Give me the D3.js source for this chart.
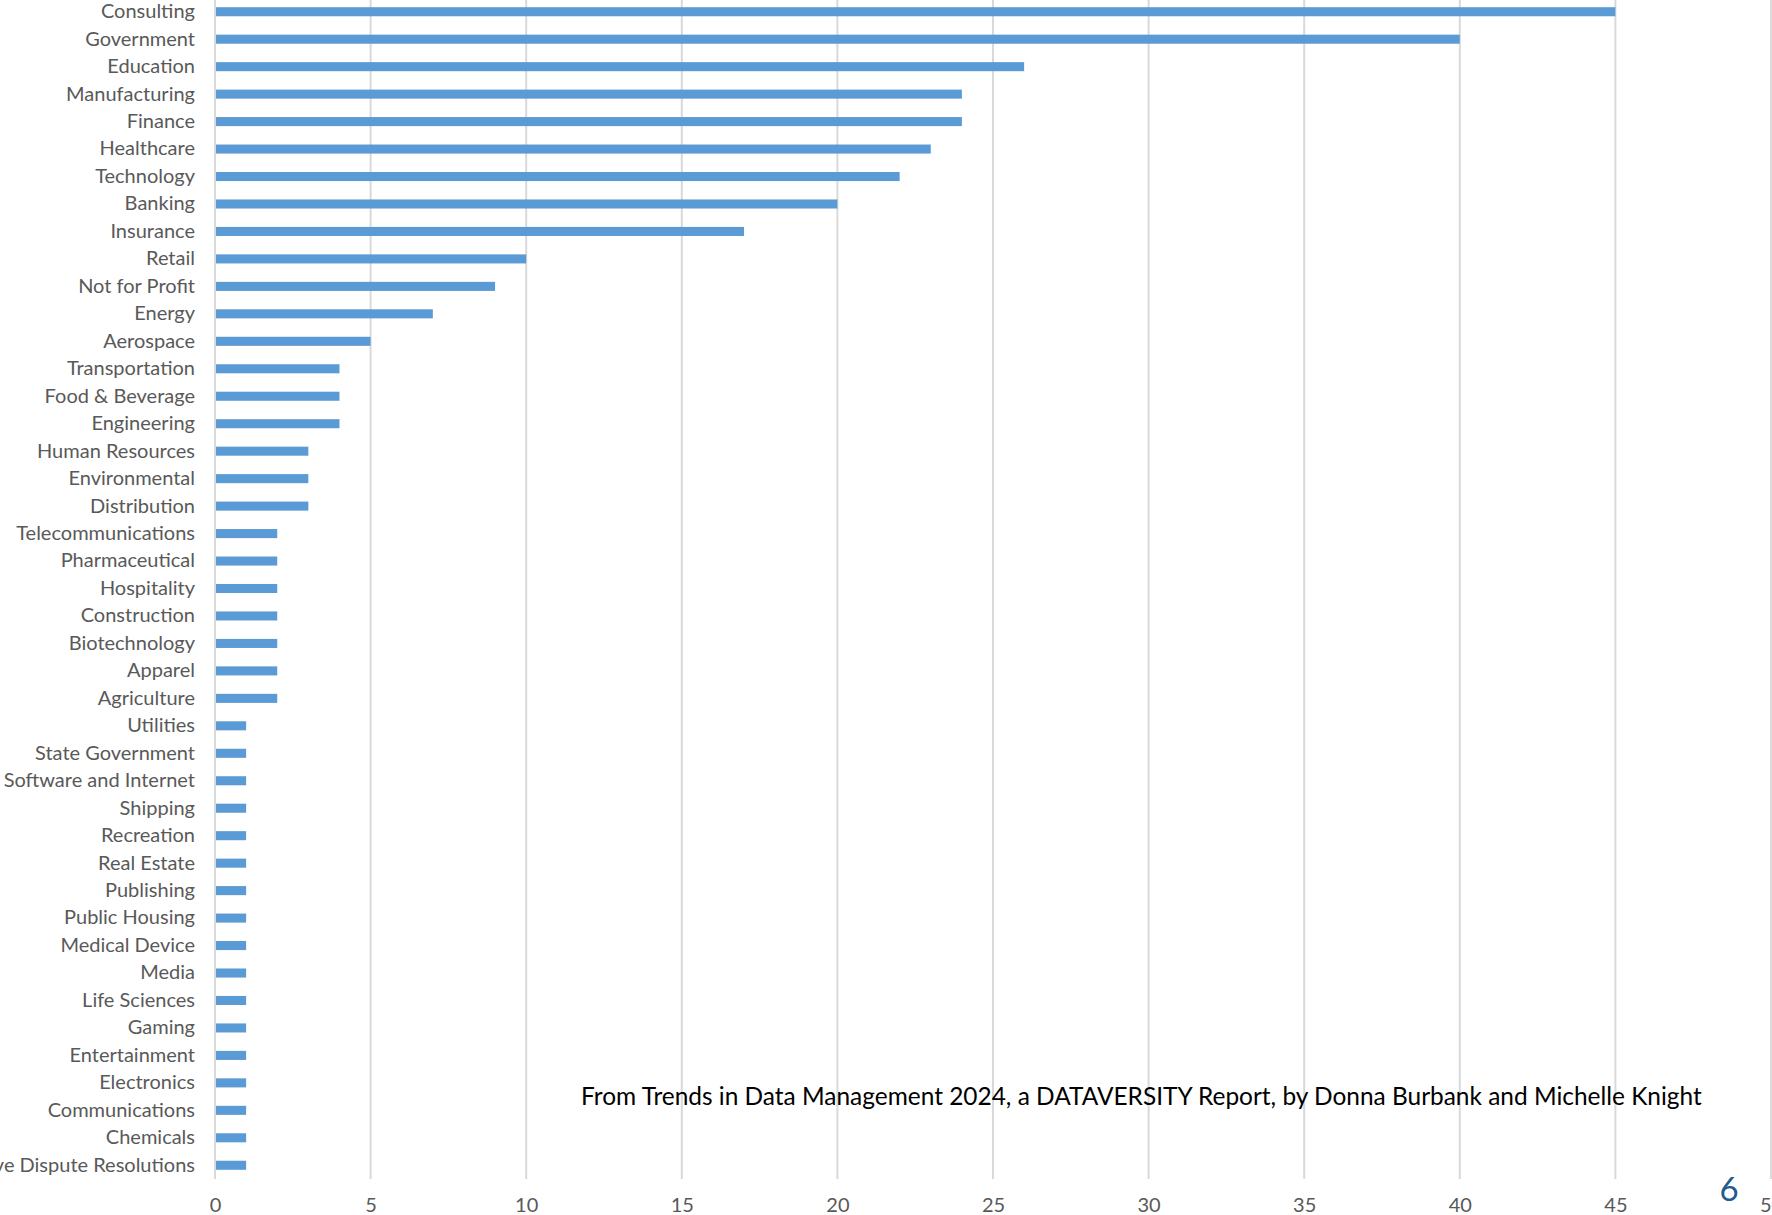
<!DOCTYPE html>
<html>
<head>
<meta charset="utf-8">
<script src="https://cdn.jsdelivr.net/npm/d3@7"></script>
<style>
  body { margin: 0; background: #fff; }
  svg { display: block; }
</style>
</head>
<body>
<div id="chart"></div>
<script>
// Industries of respondents (count)
const categories = [
    "Consulting", "Government", "Education", "Manufacturing", "Finance",
    "Healthcare", "Technology", "Banking", "Insurance", "Retail",
    "Not for Profit", "Energy", "Aerospace", "Transportation", "Food & Beverage",
    "Engineering", "Human Resources", "Environmental", "Distribution", "Telecommunications",
    "Pharmaceutical", "Hospitality", "Construction", "Biotechnology", "Apparel",
    "Agriculture", "Utilities", "State Government", "Software and Internet", "Shipping",
    "Recreation", "Real Estate", "Publishing", "Public Housing", "Medical Device",
    "Media", "Life Sciences", "Gaming", "Entertainment", "Electronics",
    "Communications", "Chemicals", "Alternative Dispute Resolutions"
];
const counts = [
    45, 40, 26, 24, 24,
    23, 22, 20, 17, 10,
    9, 7, 5, 4, 4,
    4, 3, 3, 3, 2,
    2, 2, 2, 2, 2,
    2, 1, 1, 1, 1,
    1, 1, 1, 1, 1,
    1, 1, 1, 1, 1,
    1, 1, 1
];
const xTicks = [0, 5, 10, 15, 20, 25, 30, 35, 40, 45, 50];

const sourceText = "From Trends in Data Management 2024, a DATAVERSITY Report, by Donna Burbank and Michelle Knight";
const pageNumber = "6";

const data = categories.map((c, i) => ({ category: c, value: counts[i] }));

// Dimensions
const width = 1772, height = 1215;
const margin = { top: -2, right: 1, bottom: 36, left: 215 };
const font = "Lato, 'Open Sans', sans-serif";

const svg = d3.select("#chart")
    .append("svg")
    .attr("width", width)
    .attr("height", height);

// Scales
const x = d3.scaleLinear()
    .domain([0, 50])
    .range([margin.left, width - margin.right]);

const y = d3.scaleBand()
    .domain(categories)
    .range([margin.top, height - margin.bottom])
    .paddingInner(0.67)
    .paddingOuter(0.335);

// Vertical gridlines
svg.append("g")
    .selectAll("line")
    .data(xTicks)
    .enter().append("line")
    .attr("x1", d => x(d))
    .attr("x2", d => x(d))
    .attr("y1", 0)
    .attr("y2", height - margin.bottom)
    .attr("stroke", "#d9d9d9")
    .attr("stroke-width", 2);

// Bars
svg.append("g")
    .selectAll(".bar")
    .data(data)
    .enter().append("rect")
    .attr("class", "bar")
    .attr("x", x(0) + 1)
    .attr("y", d => y(d.category))
    .attr("width", d => x(d.value) - x(0) - 1)
    .attr("height", y.bandwidth())
    .attr("fill", "#5b9bd5");

// Category labels (y axis)
const yAxis = svg.append("g")
    .attr("transform", `translate(${x(0) - 20},0)`)
    .call(d3.axisLeft(y).tickSize(0).tickPadding(0));
yAxis.select(".domain").remove();
yAxis.selectAll("text")
    .attr("fill", "#595959")
    .style("font-family", font)
    .style("font-size", "20px");

// Value ticks (x axis)
const xAxis = svg.append("g")
    .attr("transform", `translate(0,${height - margin.bottom})`)
    .call(d3.axisBottom(x).tickValues(xTicks).tickSize(0).tickPadding(19));
xAxis.select(".domain").remove();
xAxis.selectAll("text")
    .attr("fill", "#595959")
    .style("font-family", font)
    .style("font-size", "20px");

// Source note
const note = svg.append("text")
    .attr("x", 581)
    .attr("y", 1105)
    .attr("fill", "#000")
    .style("font-family", font)
    .style("font-size", "24px")
    .text(sourceText);
// fit to the width used in the original slide
const noteWidth = note.node().getComputedTextLength();
note.style("font-size", (24 * 1121 / noteWidth) + "px");

// Page number
svg.append("text")
    .attr("x", 1729)
    .attr("y", 1201)
    .attr("text-anchor", "middle")
    .attr("fill", "#245a8d")
    .style("font-family", font)
    .style("font-size", "33px")
    .text(pageNumber);
</script>
</body>
</html>
